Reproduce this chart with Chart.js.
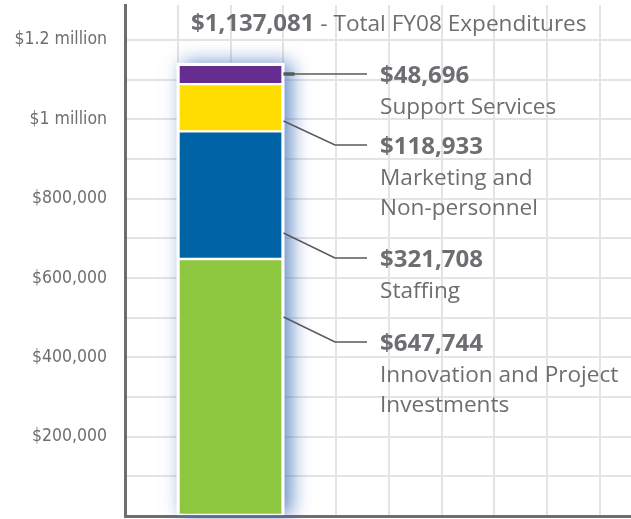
<!DOCTYPE html>
<html>
<head>
<meta charset="utf-8">
<script src="https://cdn.jsdelivr.net/npm/chart.js@4.4.1/dist/chart.umd.min.js"></script>
<style>
  html, body { margin: 0; padding: 0; background: #ffffff; }
  canvas { display: block; }
</style>
</head>
<body>
<canvas id="fy08Chart" width="631" height="519"></canvas>
<script>
// data
const categories = ['FY08'];
const segmentNames = ['Innovation and Project Investments', 'Staffing', 'Marketing and Non-personnel', 'Support Services'];
const segmentLines = [['Innovation and Project', 'Investments'], ['Staffing'], ['Marketing and', 'Non-personnel'], ['Support Services']];
const segmentValues = [647744, 321708, 118933, 48696];
const segmentColors = ['#8dc63f', '#0063a6', '#ffdd00', '#662d91'];
const tickValues = [200000, 400000, 600000, 800000, 1000000, 1200000];
const tickLabels = ['$200,000', '$400,000', '$600,000', '$800,000', '$1 million', '$1.2 million'];

// callout layout (baseline of the bold value, drop of the leader), not data
const calloutBaseline = [351, 267, 154, 83];
const calloutDrop = [25, 25, 24, 0];

const textColor = '#6d6e71';
const gridColor = '#e4e4e4';
const money = v => '$' + v.toLocaleString('en-US');

const total = segmentValues.reduce((a, b) => a + b, 0);

const glowPlugin = {
	id: 'glow',
	beforeDatasetsDraw(chart) {
		const els = chart.data.datasets.map((d, i) => chart.getDatasetMeta(i).data[0]);
		const left = els[0].x - els[0].width / 2 - 2;
		const right = els[0].x + els[0].width / 2 + 2;
		const top = Math.min(...els.map(e => e.y)) - 2;
		const bottom = els[0].base;
		const ctx = chart.ctx;
		ctx.save();
		ctx.shadowColor = 'rgba(60, 110, 185, 0.8)';
		ctx.shadowBlur = 18;
		ctx.shadowOffsetX = 6;
		ctx.fillStyle = '#ffffff';
		ctx.fillRect(left, top, right - left, bottom - top);
		ctx.restore();
	}
};

const calloutPlugin = {
	id: 'callouts',
	afterDatasetsDraw(chart) {
		const ctx = chart.ctx;
		ctx.save();
		chart.data.datasets.forEach((d, i) => {
			const el = chart.getDatasetMeta(i).data[0];
			const barRight = el.x + el.width / 2 + 1;
			const base = calloutBaseline[i];
			const lineY = base - 9;
			const startY = lineY - calloutDrop[i];
			ctx.strokeStyle = '#58595b';
			ctx.lineWidth = 1.5;
			ctx.beginPath();
			ctx.moveTo(barRight, startY);
			if (calloutDrop[i]) ctx.lineTo(335, lineY);
			ctx.lineTo(367, lineY);
			ctx.stroke();
			if (!calloutDrop[i]) {
				ctx.lineWidth = 3.5;
				ctx.beginPath();
				ctx.moveTo(barRight, lineY);
				ctx.lineTo(barRight + 11, lineY);
				ctx.stroke();
			}

			ctx.fillStyle = textColor;
			ctx.textAlign = 'left';
			ctx.textBaseline = 'alphabetic';
			ctx.font = 'bold 24px "Open Sans"';
			ctx.fillText(money(segmentValues[i]), 380, base);
			ctx.font = '22.6px "Open Sans"';
			segmentLines[i].forEach((line, k) => {
				ctx.fillText(line, 380, base + 31 + k * 30);
			});
		});

		// heading
		ctx.fillStyle = textColor;
		ctx.font = 'bold 24px "Open Sans"';
		const head = money(total);
		ctx.fillText(head, 191, 31);
		const w = ctx.measureText(head).width;
		ctx.font = '22.6px "Open Sans"';
		ctx.fillText(' - Total FY08 Expenditures', 191 + w, 31);
		ctx.restore();
	}
};

const datasets = segmentNames.map((name, i) => ({
	label: name,
	data: [{x: 2, y: segmentValues[i]}],
	backgroundColor: segmentColors[i],
	borderColor: '#ffffff',
	borderWidth: 1.5,
	borderSkipped: false,
	barThickness: 104
}));

const noPad = scale => {
	scale.paddingTop = 0;
	scale.paddingBottom = 0;
	scale.paddingLeft = 0;
	scale.paddingRight = 0;
};

const config = {
	type: 'bar',
	data: {labels: categories, datasets},
	options: {
		responsive: false,
		animation: false,
		devicePixelRatio: 1,
		layout: {padding: {top: 5, bottom: 3, left: 0, right: 0}},
		plugins: {legend: {display: false}, tooltip: {enabled: false}},
		scales: {
			x: {
				type: 'linear',
				stacked: true,
				offset: false,
				min: 0,
				max: 9.59,
				afterBuildTicks: scale => {
					const t = [];
					for (let v = 0; v <= scale.max; v++) t.push({value: v});
					scale.ticks = t;
				},
				afterFit: scale => { scale.height = 0; noPad(scale); },
				ticks: {display: false},
				grid: {
					offset: false,
					drawTicks: false,
					lineWidth: 2,
					color: c => (c.tick && c.tick.value > 0) ? gridColor : 'rgba(0,0,0,0)'
				},
				border: {color: textColor, width: 3}
			},
			y: {
				stacked: true,
				min: 0,
				max: 1288000,
				afterBuildTicks: scale => {
					const t = [];
					for (let v = 0; v <= scale.max; v += 100000) t.push({value: v});
					scale.ticks = t;
				},
				afterFit: scale => { scale.width = 125; noPad(scale); },
				ticks: {
					autoSkip: false,
					padding: 18,
					color: textColor,
					font: {family: '"DejaVu Sans Condensed", "DejaVu Sans", sans-serif', size: 17.5},
					callback: v => {
						const k = tickValues.indexOf(v);
						return k >= 0 ? tickLabels[k] : '';
					}
				},
				grid: {
					drawTicks: false,
					lineWidth: 2,
					color: c => (c.tick && c.tick.value > 0) ? gridColor : 'rgba(0,0,0,0)'
				},
				border: {color: textColor, width: 3}
			}
		}
	},
	plugins: [glowPlugin, calloutPlugin]
};

new Chart(document.getElementById('fy08Chart'), config);
</script>
</body>
</html>
